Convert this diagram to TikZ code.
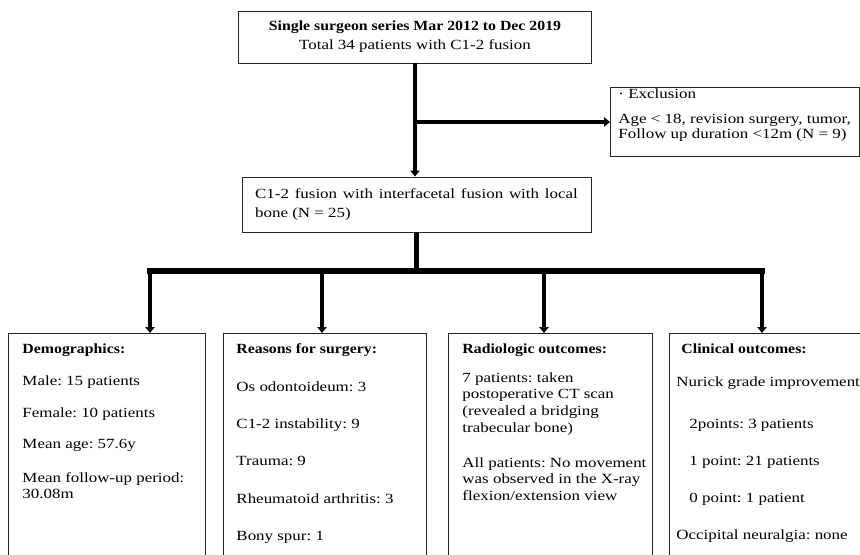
\documentclass[tikz,border=0pt]{standalone}
\usepackage{fontspec}
\setmainfont{Liberation Serif}[FakeStretch=1.21, BoldFeatures={FakeStretch=1.13}]
\usetikzlibrary{arrows.meta,positioning}

\tikzset{
  box/.style={draw=black!85, line width=0.7pt, inner sep=0pt,
    font=\fontsize{10.5}{14.3}\selectfont},
  lowbox/.style={box, anchor=north west, font=\fontsize{10.5}{12.2}\selectfont},
  conn/.style={line width=3.2pt, -{Triangle[width=7pt,length=4.5pt]}},
  trunk/.style={line width=3.2pt},
  bar/.style={line width=4.6pt, line cap=rect},
}

\begin{document}
\frenchspacing
\begin{tikzpicture}[x=0.75pt,y=-0.75pt]
  \clip (0,0) rectangle (860,554);

  % flow boxes
  \node[box, minimum width=264.75pt, minimum height=39pt, align=center] (series) at (415,37)
    {\textbf{Single surgeon series Mar 2012 to Dec 2019}\\Total 34 patients with C1-2 fusion};
  \node[box, anchor=north west, font=\fontsize{10.5}{11.4}\selectfont] (excl) at (610,87)
    {\hspace*{6pt}\begin{minipage}[t][51.75pt][t]{180.5pt}
      \vspace*{1.2pt}· Exclusion\\[7.3pt]
      Age < 18, revision surgery, tumor,\\
      Follow up duration <12m (N = 9)
    \end{minipage}};
  \node[box, minimum width=261.75pt, minimum height=41.25pt, text width=242pt,
        inner xsep=9.75pt, align=justify] (fusion) at (416.5,204.5)
    {C1-2 fusion with interfacetal fusion with local\linebreak bone (N = 25)};

  % result boxes
  \node[lowbox] (demo) at (8,333)
    {\hspace*{10.5pt}\begin{minipage}[t][200pt][t]{137.25pt}\raggedright
      \vspace*{7.5pt}\textbf{Demographics:}\\[11.9pt]
      Male: 15 patients\\[11.9pt]
      Female: 10 patients\\[11.1pt]
      Mean age: 57.6y\\[13.4pt]
      Mean follow-up period:\\
      30.08m
    \end{minipage}};
  \node[lowbox] (reasons) at (223,333)
    {\hspace*{9.75pt}\begin{minipage}[t][200pt][t]{142.5pt}\raggedright
      \vspace*{7.5pt}\textbf{Reasons for surgery:}\\[16.5pt]
      Os odontoideum: 3\\[15.7pt]
      C1-2 instability: 9\\[15.7pt]
      Trauma: 9\\[15.7pt]
      Rheumatoid arthritis: 3\\[15.7pt]
      Bony spur: 1
    \end{minipage}};
  \node[lowbox, font=\fontsize{10.5}{12.5}\selectfont] (radio) at (448,333)
    {\hspace*{10.5pt}\begin{minipage}[t][200pt][t]{142.5pt}\raggedright
      \vspace*{7.5pt}\textbf{Radiologic outcomes:}\\[9.2pt]
      7 patients: taken\\
      postoperative CT scan\\
      (revealed a bridging\\
      trabecular bone)\\[13.7pt]
      All patients: No movement\\
      was observed in the X-ray\\
      flexion/extension view
    \end{minipage}};
  \node[lowbox] (clinic) at (669,333)
    {\hspace*{5.25pt}\begin{minipage}[t][200pt][t]{171pt}\raggedright
      \vspace*{7.5pt}\hspace{3.75pt}\textbf{Clinical outcomes:}\\[12.6pt]
      Nurick grade improvement\\[19.6pt]
      \hspace{9.75pt}2points: 3 patients\\[15.4pt]
      \hspace{9.75pt}1 point: 21 patients\\[15.4pt]
      \hspace{9.75pt}0 point: 1 patient\\[15.4pt]
      Occipital neuralgia: none
    \end{minipage}};

  % connectors
  \draw[conn] (series.south) -- (series.south |- fusion.north);
  \draw[conn] (series.south |- excl.west) -- (excl.west);
  \coordinate (hub) at (fusion.south |- 0,271);
  \coordinate (d1) at (150,271);
  \coordinate (d2) at (322,271);
  \coordinate (d3) at (544,271);
  \coordinate (d4) at (762,271);
  \draw[trunk] (fusion.south) -- (hub);
  \draw[bar] (d1) -- (d4);
  \foreach \d/\b in {d1/demo, d2/reasons, d3/radio, d4/clinic}
    \draw[conn] (\d) -- (\d |- \b.north);
\end{tikzpicture}
\end{document}
